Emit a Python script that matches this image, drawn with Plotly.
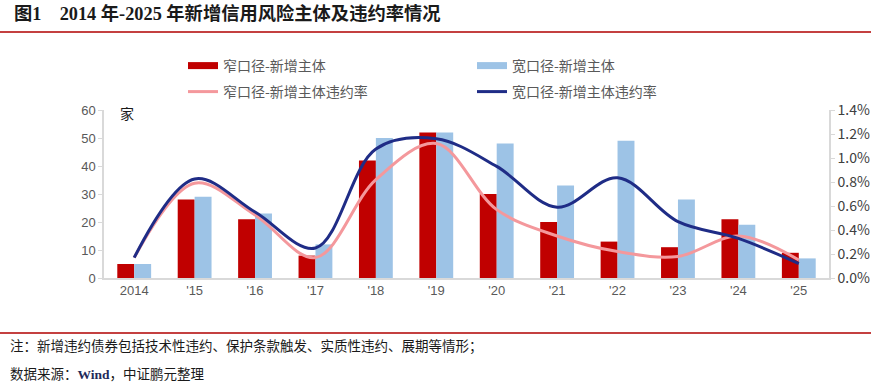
import plotly.graph_objects as go

years = ["2014", "'15", "'16", "'17", "'18", "'19", "'20", "'21", "'22", "'23", "'24", "'25"]
narrow_new = [5, 28, 21, 8, 42, 52, 30, 20, 13, 11, 21, 9]
broad_new = [5, 29, 23, 12, 50, 52, 48, 33, 49, 28, 19, 7]
narrow_rate = [0.17, 0.79, 0.525, 0.17, 0.82, 1.12, 0.57, 0.35, 0.22, 0.18, 0.35, 0.15]
broad_rate = [0.17, 0.825, 0.55, 0.25, 1.075, 1.16, 0.93, 0.59, 0.835, 0.47, 0.33, 0.12]
y2_ticks = [0, 0.2, 0.4, 0.6, 0.8, 1.0, 1.2, 1.4]
y2_labels = ["0.0%", "0.2%", "0.4%", "0.6%", "0.8%", "1.0%", "1.2%", "1.4%"]

W, H = 871, 388
PLOT_L, PLOT_R, PLOT_T, PLOT_B = 104, 829, 110, 278  # pixels
L, R, T, B = PLOT_L, W - PLOT_R, PLOT_T, H - PLOT_B
PW, PH = PLOT_R - PLOT_L, PLOT_B - PLOT_T


def px(x):
    return (x - PLOT_L) / PW


def py(y):
    return (PLOT_B - y) / PH


RED = "#c00000"
BLUE = "#9dc3e6"
PINK = "#f4989c"
NAVY = "#1f2c86"
GREY = "#595959"

fig = go.Figure()
fig.add_trace(go.Bar(x=years, y=narrow_new, name="窄口径-新增主体", marker=dict(color=RED, line=dict(width=0)),
                     showlegend=False))
fig.add_trace(go.Bar(x=years, y=broad_new, name="宽口径-新增主体", marker=dict(color=BLUE, line=dict(width=0)),
                     showlegend=False))
# legend entries for bars (styled as thick bands)
fig.add_trace(go.Scatter(x=[None], y=[None], mode="lines", name="窄口径-新增主体",
                         line=dict(color=RED, width=7), legend="legend"))
fig.add_trace(go.Scatter(x=[None], y=[None], mode="lines", name="宽口径-新增主体",
                         line=dict(color=BLUE, width=7), legend="legend"))
fig.add_trace(go.Scatter(x=years, y=narrow_rate, name="窄口径-新增主体违约率", yaxis="y2", mode="lines",
                         line=dict(color=PINK, width=3, shape="spline", smoothing=1.0), legend="legend2"))
fig.add_trace(go.Scatter(x=years, y=broad_rate, name="宽口径-新增主体违约率", yaxis="y2", mode="lines",
                         line=dict(color=NAVY, width=3, shape="spline", smoothing=1.0), legend="legend2"))

legend_common = dict(orientation="h", xanchor="left", yanchor="middle", entrywidth=244, entrywidthmode="pixels",
                     font=dict(family="Noto Sans CJK SC", size=14, color=GREY), bgcolor="rgba(0,0,0,0)",
                     itemclick=False, itemdoubleclick=False)

fig.update_layout(
    width=W, height=H,
    margin=dict(l=L, r=R, t=T, b=B, autoexpand=False),
    paper_bgcolor="white", plot_bgcolor="white",
    barmode="group", bargap=0.44, bargroupgap=0,
    font=dict(family="Liberation Sans, Noto Sans CJK SC", color=GREY),
    legend=dict(x=px(183), y=py(66), **legend_common),
    legend2=dict(x=px(183), y=py(92), **legend_common),
    xaxis=dict(showline=True, linecolor="#d9d9d9", linewidth=1.5, ticks="", showgrid=False,
               tickfont=dict(size=13, color=GREY, family="Liberation Sans")),
    yaxis=dict(range=[0, 60], dtick=10, showline=True, linecolor="#d9d9d9", linewidth=1.5, ticks="outside",
               ticklen=4, tickcolor="#d9d9d9", showgrid=False, zeroline=False,
               tickfont=dict(size=13, color=GREY, family="Liberation Sans")),
    yaxis2=dict(range=[0, 1.4], overlaying="y", side="right", tickvals=y2_ticks, ticktext=y2_labels,
                showline=True, linecolor="#d9d9d9", linewidth=1.5, ticks="outside", ticklen=4,
                tickcolor="#d9d9d9", showgrid=False, zeroline=False,
                tickfont=dict(size=14, color="#404040", family="Noto Sans CJK SC")),
)

fig.add_annotation(x=px(12), y=py(13), xref="paper", yref="paper", xanchor="left", yanchor="middle",
                   text="<b>图1    2014 年-2025 年新增信用风险主体及违约率情况</b>", showarrow=False,
                   font=dict(family="Liberation Serif, Noto Sans CJK SC", size=18.3, color="#1a1a1a"))
fig.add_annotation(x=px(118), y=py(113), xref="paper", yref="paper", xanchor="left", yanchor="middle",
                   text="家", showarrow=False, font=dict(family="Noto Sans CJK SC", size=14, color="#1a1a1a"))
fig.add_annotation(x=px(8), y=py(345), xref="paper", yref="paper", xanchor="left", yanchor="middle",
                   text="注：新增违约债券包括技术性违约、保护条款触发、实质性违约、展期等情形；", showarrow=False,
                   font=dict(family="Noto Sans CJK SC", size=13.5, color="#1a1a1a"))
fig.add_annotation(x=px(8), y=py(373), xref="paper", yref="paper", xanchor="left", yanchor="middle",
                   text="数据来源：<b><span style='font-family:Liberation Serif;color:#1f2a5a'>Wind</span></b>，中证鹏元整理",
                   showarrow=False, font=dict(family="Noto Sans CJK SC", size=13.5, color="#1a1a1a"))

for yy in (32, 333):
    fig.add_shape(type="line", xref="paper", yref="paper", x0=px(0), x1=px(871), y0=py(yy), y1=py(yy),
                  line=dict(color="#b00000", width=1.5))

fig.write_html("out.html", config={"displayModeBar": False},
               post_script="document.body.style.margin='0';document.body.style.padding='0';")
